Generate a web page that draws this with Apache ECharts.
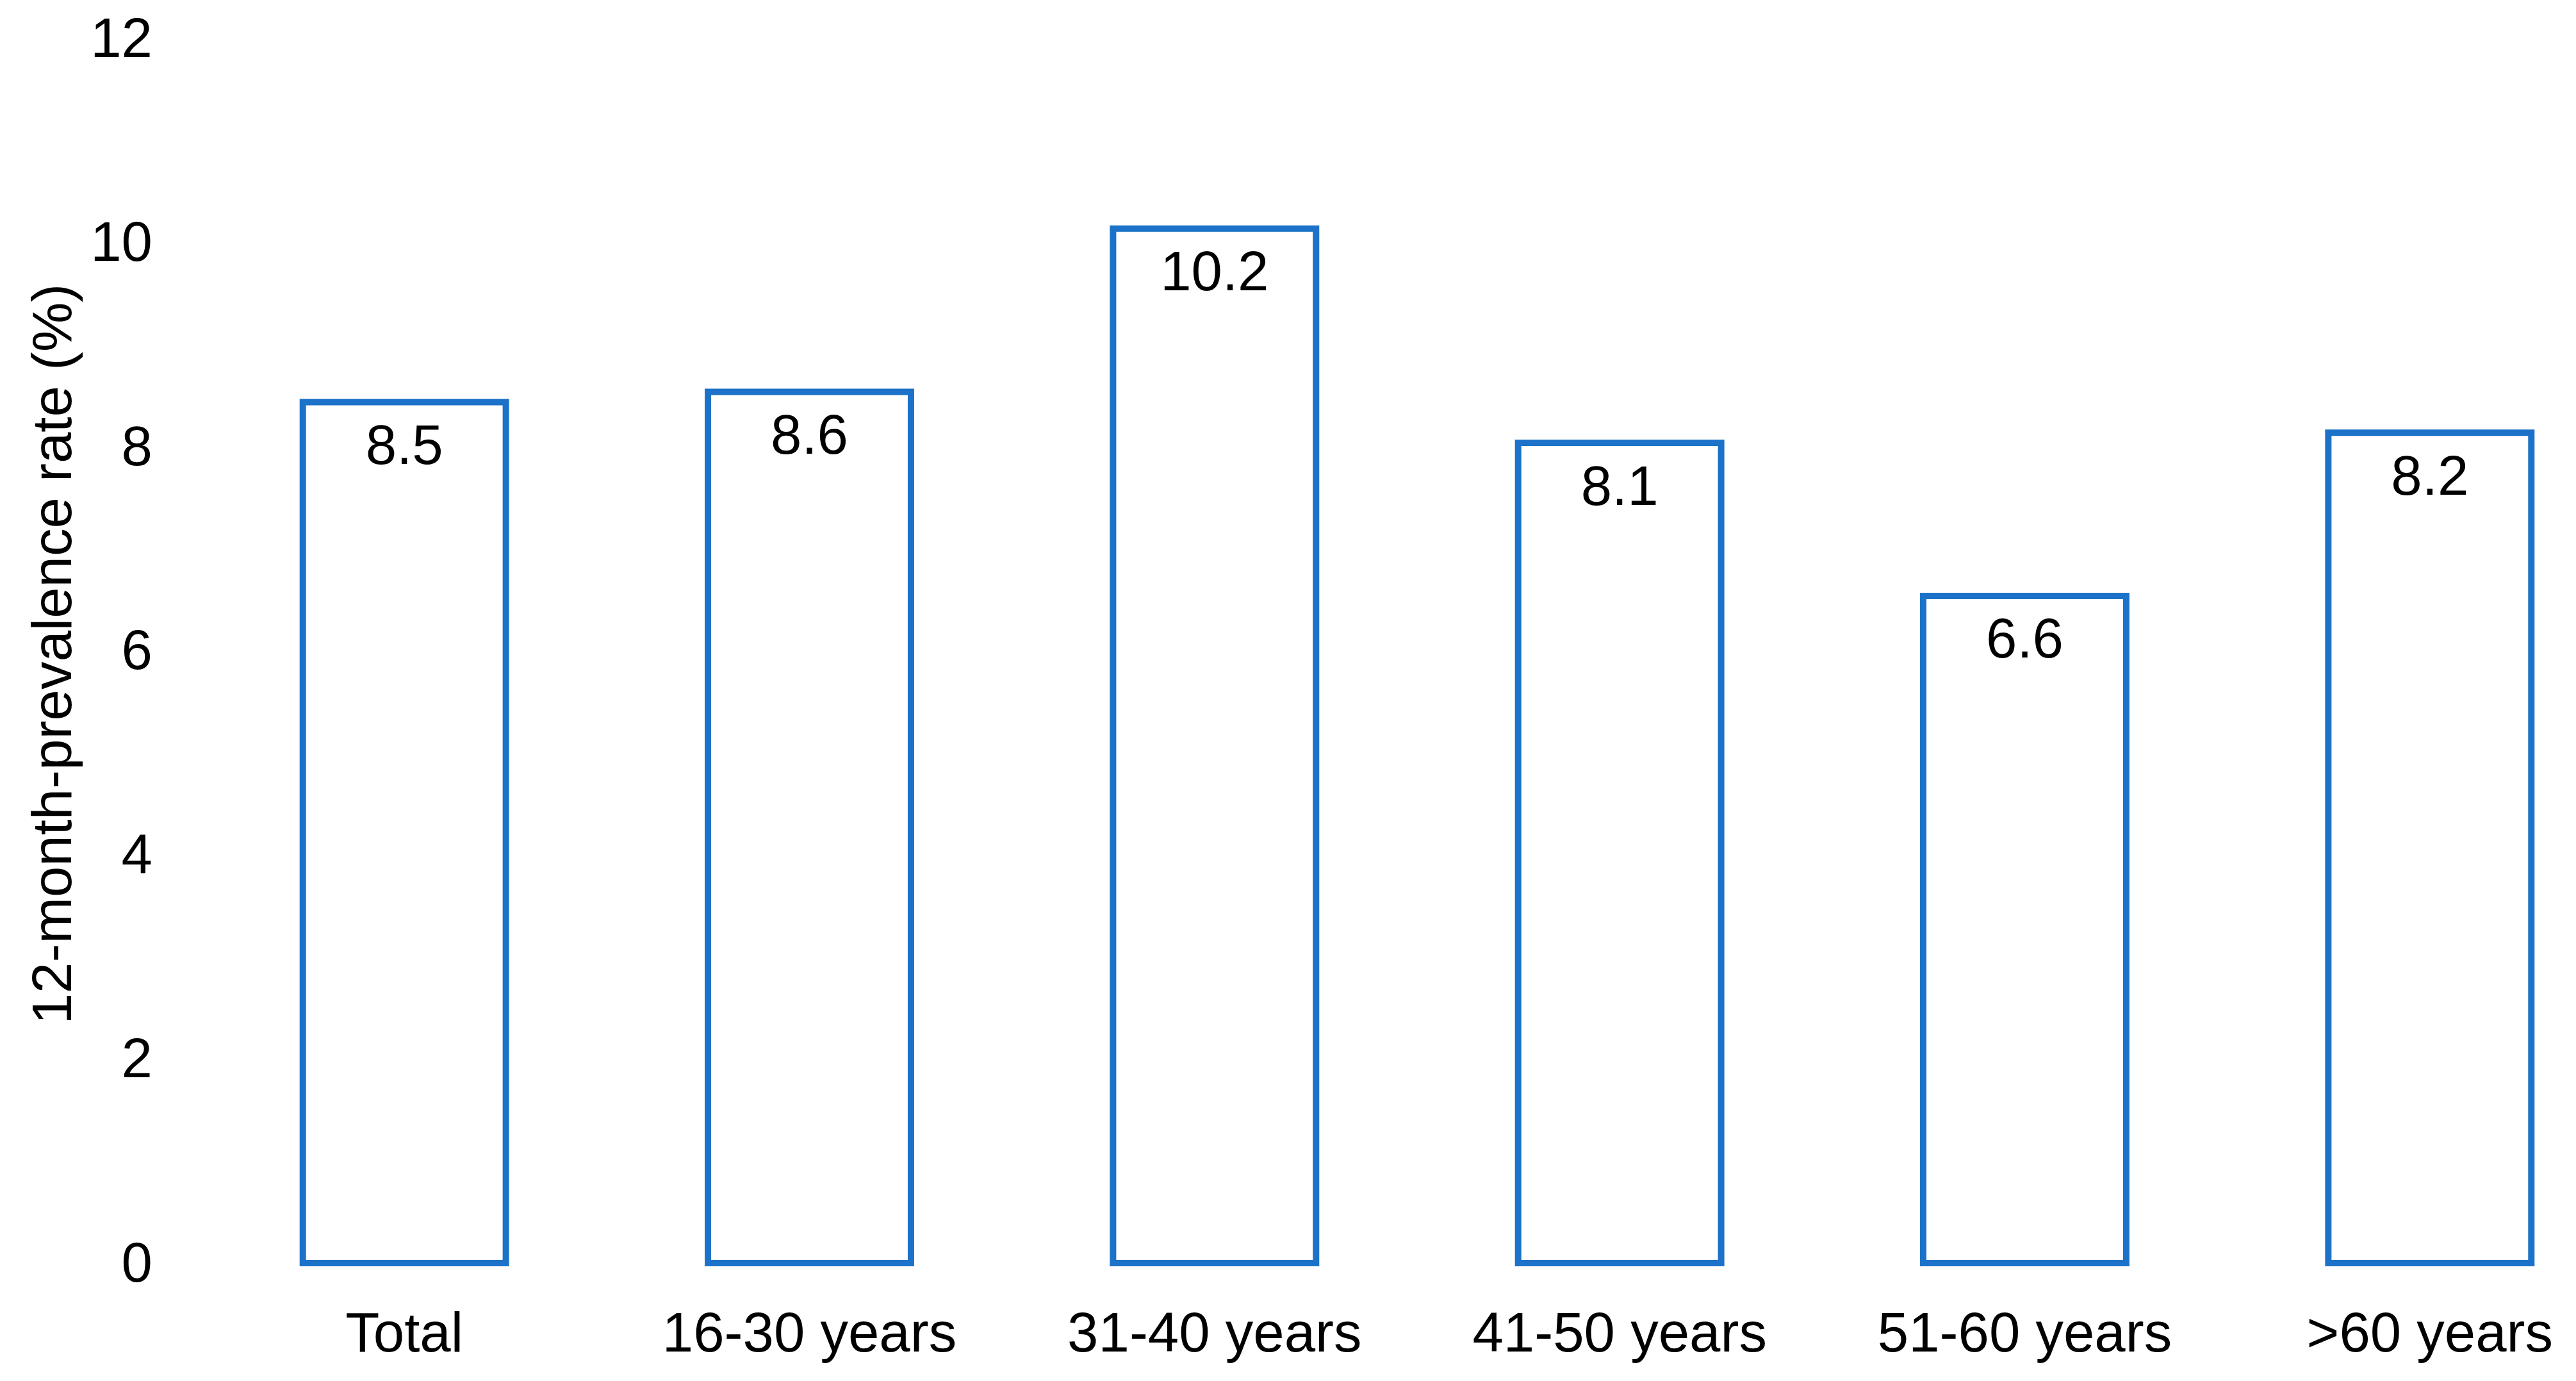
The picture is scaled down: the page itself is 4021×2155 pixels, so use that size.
<!DOCTYPE html>
<html>
<head>
<meta charset="utf-8">
<script src="https://cdn.jsdelivr.net/npm/echarts@6/dist/echarts.min.js"></script>
<style>
html,body{margin:0;padding:0;background:#fff;}
#chart{width:4021px;height:2155px;}
</style>
</head>
<body>
<div id="chart"></div>
<script>
const categories = ['Total', '16-30 years', '31-40 years', '41-50 years', '51-60 years', '>60 years'];
const prevalence = [8.5, 8.6, 10.2, 8.1, 6.6, 8.2];
const yAxisTitle = '12-month-prevalence rate (%)';

const FONT = 'Liberation Sans, Arial, sans-serif';
const chart = echarts.init(document.getElementById('chart'), null, {renderer: 'canvas'});
chart.setOption({
  animation: false,
  backgroundColor: '#ffffff',
  grid: {left: 315, right: -88, top: 65, bottom: 179, containLabel: false, outerBoundsMode: 'none'},
  xAxis: {
    type: 'category',
    data: categories,
    axisLine: {show: false},
    axisTick: {show: false},
    axisLabel: {color: '#000', fontSize: 87, fontFamily: FONT, margin: 66, interval: 0}
  },
  yAxis: {
    type: 'value',
    min: 0, max: 12, interval: 2,
    name: yAxisTitle,
    nameLocation: 'middle',
    nameGap: 182,
    nameTextStyle: {color: '#000', fontSize: 87, fontFamily: FONT},
    axisLine: {show: false},
    axisTick: {show: false},
    splitLine: {show: false},
    axisLabel: {color: '#000', fontSize: 87, fontFamily: FONT, margin: 77, padding: [16, 0, 0, 0]}
  },
  series: [{
    type: 'bar',
    data: prevalence,
    barWidth: '51.7%',
    itemStyle: {color: '#ffffff', borderColor: '#1B72C8', borderWidth: 10},
    label: {
      show: true,
      position: 'insideTop',
      distance: 34,
      color: '#000',
      fontSize: 87,
      fontFamily: FONT
    }
  }]
});
</script>
</body>
</html>
